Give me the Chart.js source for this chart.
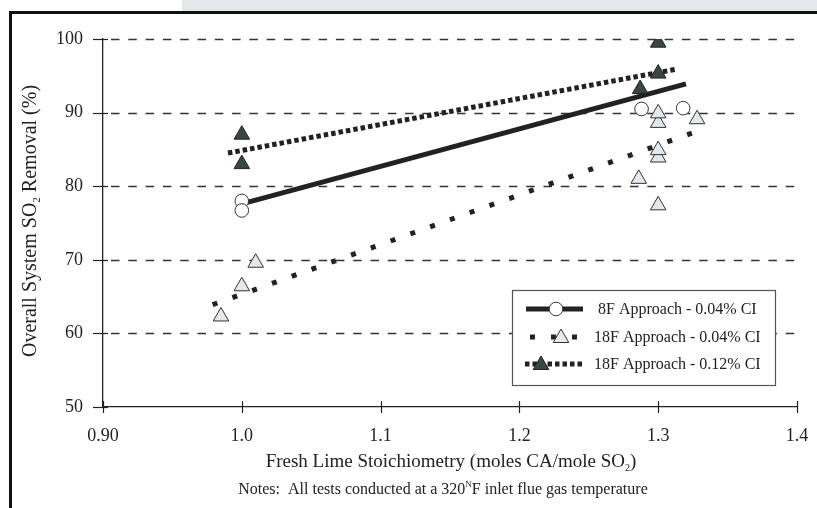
<!DOCTYPE html>
<html>
<head>
<meta charset="utf-8">
<title>SO2 Removal vs Fresh Lime Stoichiometry</title>
<script src="https://cdn.jsdelivr.net/npm/chart.js@4.4.1/dist/chart.umd.min.js"></script>
<style>
    html, body { margin: 0; padding: 0; background: #fff; }
    #wrap { position: relative; width: 817px; height: 508px; overflow: hidden; }
    #band { position: absolute; left: 182px; top: 0; width: 640px; height: 11px; background: #e2e7e9; }
    #frame { position: absolute; left: 9px; top: 11px; width: 820px; height: 520px;
             border-left: 3px solid #111; border-top: 3px solid #111; }
    #chartBox { position: absolute; left: 0; top: 0; width: 817px; height: 508px; }
</style>
</head>
<body>
<div id="wrap">
    <div id="band"></div>
    <div id="frame"></div>
    <div id="chartBox"><canvas id="mainChart"></canvas></div>
</div>
<script>
/* ===== ข้อมูล (อ่านค่าจากภาพ) ===== */
const xTicks = [0.9, 1.0, 1.1, 1.2, 1.3, 1.4];
const yTicks = [50, 60, 70, 80, 90, 100];
const gridValues = [60, 70, 80, 90, 100];

// 8F Approach - 0.04% CI (วงกลม)
const circleX = [1.0, 1.0, 1.288, 1.318];
const circleY = [78.0, 76.7, 90.5, 90.6];

// 18F Approach - 0.04% CI (สามเหลี่ยมสีอ่อน)
const lightX = [0.985, 1.0, 1.01, 1.286, 1.3, 1.3, 1.3, 1.3, 1.3, 1.328];
const lightY = [62.3, 66.4, 69.6, 81.0, 77.4, 83.9, 84.9, 88.6, 89.9, 89.1];

// 18F Approach - 0.12% CI (สามเหลี่ยมสีเข้ม)
const darkX = [1.0, 1.0, 1.287, 1.3, 1.3];
const darkY = [87.0, 83.0, 93.2, 95.3, 99.5];

// เส้นแนวโน้ม
const fit8FX = [1.0, 1.32];
const fit8FY = [77.6, 93.9];
const fit04X = [0.979, 1.333];
const fit04Y = [63.9, 87.8];
const fit12X = [0.99, 1.313];
const fit12Y = [84.5, 95.9];

const legendLabels = ['8F Approach - 0.04% CI', '18F Approach - 0.04% CI', '18F Approach - 0.12% CI'];

const SERIF = "'Liberation Serif', 'Times New Roman', serif";
const INK = '#222';

function toPoints(xs, ys) {
    return xs.map((x, i) => ({ x: x, y: ys[i] }));
}

/* ===== วาดสามเหลี่ยม (ใช้ในคำอธิบาย) ===== */
function drawTriangle(ctx, x, y, r, fill, stroke) {
    ctx.beginPath();
    for (let k = 0; k < 3; k++) {
        const a = k * 2 * Math.PI / 3;
        const px = x + Math.sin(a) * r;
        const py = y - Math.cos(a) * r;
        if (k === 0) ctx.moveTo(px, py); else ctx.lineTo(px, py);
    }
    ctx.closePath();
    ctx.fillStyle = fill;
    ctx.fill();
    ctx.lineWidth = 1;
    ctx.strokeStyle = stroke;
    ctx.stroke();
}

/* ===== ข้อความที่มีตัวห้อย / ตัวยก ===== */
function drawRichText(ctx, parts, cx, cy, size) {
    // parts: [{t, mode}] mode = 'n' | 'sub' | 'sup'
    const fontOf = (m) => (m === 'n' ? size : Math.round(size * 0.55)) + 'px ' + SERIF;
    let total = 0;
    parts.forEach(p => { ctx.font = fontOf(p.mode); total += ctx.measureText(p.t).width; });
    let x = cx - total / 2;
    ctx.textAlign = 'left';
    ctx.textBaseline = 'alphabetic';
    parts.forEach(p => {
        ctx.font = fontOf(p.mode);
        let dy = 0;
        if (p.mode === 'sub') dy = size * 0.2;
        if (p.mode === 'sup') dy = -size * 0.42;
        ctx.fillText(p.t, x, cy + dy);
        x += ctx.measureText(p.t).width;
    });
}

/* ===== Plugin: เส้นกริดประ, ขีด tick, ชื่อแกน, คำอธิบาย ===== */
const decorPlugin = {
    id: 'decor',
    beforeDatasetsDraw(chart) {
        const { ctx, chartArea, scales } = chart;
        ctx.save();
        ctx.strokeStyle = '#333';
        ctx.lineWidth = 1.5;
        ctx.setLineDash([8.5, 8.8]);
        ctx.lineDashOffset = -6;
        gridValues.forEach(v => {
            const y = Math.round(scales.y.getPixelForValue(v)) + 0.5;
            ctx.beginPath();
            ctx.moveTo(chartArea.left + 2, y);
            ctx.lineTo(chartArea.right, y);
            ctx.stroke();
        });
        ctx.restore();
    },
    afterDraw(chart) {
        const { ctx, chartArea, scales } = chart;
        ctx.save();

        // ขีด tick ที่ตัดผ่านแกน
        ctx.strokeStyle = INK;
        ctx.lineWidth = 1.2;
        const yAxisX = chartArea.left;
        yTicks.forEach(v => {
            const y = Math.round(scales.y.getPixelForValue(v)) + 0.5;
            ctx.beginPath();
            ctx.moveTo(yAxisX - 10, y);
            ctx.lineTo(yAxisX + 5, y);
            ctx.stroke();
        });
        const xAxisY = chartArea.bottom;
        xTicks.forEach(v => {
            const x = Math.round(scales.x.getPixelForValue(v)) + 0.5;
            ctx.beginPath();
            ctx.moveTo(x, xAxisY - 6);
            ctx.lineTo(x, xAxisY + 6);
            ctx.stroke();
        });

        // ชื่อแกน
        ctx.fillStyle = INK;
        drawRichText(ctx, [
            { t: 'Fresh Lime Stoichiometry (moles CA/mole SO', mode: 'n' },
            { t: '2', mode: 'sub' },
            { t: ')', mode: 'n' }
        ], 451, 467, 19);

        drawRichText(ctx, [
            { t: 'Notes:  All tests conducted at a 320', mode: 'n' },
            { t: 'N', mode: 'sup' },
            { t: 'F inlet flue gas temperature', mode: 'n' }
        ], 443, 494, 16);

        ctx.save();
        ctx.translate(36, 221);
        ctx.rotate(-Math.PI / 2);
        drawRichText(ctx, [
            { t: 'Overall System SO', mode: 'n' },
            { t: '2', mode: 'sub' },
            { t: ' Removal (%)', mode: 'n' }
        ], 0, 0, 20);
        ctx.restore();

        // คำอธิบายสัญลักษณ์
        drawLegend(ctx);
        ctx.restore();
    }
};

function drawLegend(ctx) {
    const bx = 512, by = 290, bw = 263, bh = 95;
    ctx.fillStyle = '#fff';
    ctx.fillRect(bx, by, bw, bh);
    ctx.strokeStyle = '#555';
    ctx.lineWidth = 1.2;
    ctx.setLineDash([]);
    ctx.strokeRect(bx + 0.5, by + 0.5, bw, bh);

    const rows = [309, 337, 364];
    const textX = [598, 594, 594];

    // แถว 1: เส้นทึบ + วงกลม
    ctx.strokeStyle = INK;
    ctx.lineWidth = 5;
    ctx.beginPath();
    ctx.moveTo(526, rows[0]);
    ctx.lineTo(583, rows[0]);
    ctx.stroke();
    ctx.beginPath();
    ctx.arc(556, rows[0], 6.8, 0, Math.PI * 2);
    ctx.fillStyle = '#fff';
    ctx.fill();
    ctx.lineWidth = 1;
    ctx.strokeStyle = '#333';
    ctx.stroke();

    // แถว 2: จุดห่าง + สามเหลี่ยมอ่อน
    ctx.lineWidth = 5;
    ctx.strokeStyle = INK;
    ctx.setLineDash([5, 16]);
    ctx.beginPath();
    ctx.moveTo(530, rows[1]);
    ctx.lineTo(582, rows[1]);
    ctx.stroke();
    ctx.setLineDash([]);
    drawTriangle(ctx, 561, rows[1] + 1, 9, '#e3e8ea', '#333');

    // แถว 3: จุดถี่ + สามเหลี่ยมเข้ม
    ctx.lineWidth = 5;
    ctx.strokeStyle = INK;
    ctx.setLineDash([4.5, 3]);
    ctx.beginPath();
    ctx.moveTo(525, rows[2]);
    ctx.lineTo(583, rows[2]);
    ctx.stroke();
    ctx.setLineDash([]);
    drawTriangle(ctx, 541, rows[2] + 1, 9, '#3b4548', '#222');

    ctx.fillStyle = INK;
    ctx.font = '16px ' + SERIF;
    ctx.textAlign = 'left';
    ctx.textBaseline = 'middle';
    legendLabels.forEach((t, i) => ctx.fillText(t, textX[i], rows[i] + 1));
}

/* ===== สร้างกราฟ ===== */
function initMainChart() {
    const ctxMain = document.getElementById('mainChart').getContext('2d');

    new Chart(ctxMain, {
        type: 'scatter',
        data: {
            datasets: [
                {
                    label: legendLabels[0] + ' fit',
                    data: toPoints(fit8FX, fit8FY),
                    showLine: true, pointRadius: 0,
                    borderColor: INK, borderWidth: 5,
                    borderCapStyle: 'butt', order: 6
                },
                {
                    label: legendLabels[1] + ' fit',
                    data: toPoints(fit04X, fit04Y),
                    showLine: true, pointRadius: 0,
                    borderColor: INK, borderWidth: 5,
                    borderDash: [5, 16], borderCapStyle: 'butt', order: 5
                },
                {
                    label: legendLabels[2] + ' fit',
                    data: toPoints(fit12X, fit12Y),
                    showLine: true, pointRadius: 0,
                    borderColor: INK, borderWidth: 5,
                    borderDash: [4.5, 3], borderCapStyle: 'butt', order: 4
                },
                {
                    label: legendLabels[0],
                    data: toPoints(circleX, circleY),
                    pointStyle: 'circle', pointRadius: 6.8,
                    backgroundColor: '#fff', borderColor: '#333', borderWidth: 1, order: 3
                },
                {
                    label: legendLabels[1],
                    data: toPoints(lightX, lightY),
                    pointStyle: 'triangle', pointRadius: 9,
                    backgroundColor: '#e3e8ea', borderColor: '#333', borderWidth: 1, order: 2
                },
                {
                    label: legendLabels[2],
                    data: toPoints(darkX, darkY),
                    pointStyle: 'triangle', pointRadius: 9,
                    backgroundColor: '#3b4548', borderColor: '#222', borderWidth: 1, order: 1
                }
            ]
        },
        options: {
            responsive: true,
            maintainAspectRatio: false,
            animation: false,
            layout: { padding: { top: 39, right: 20, left: 0, bottom: 0 } },
            plugins: {
                legend: { display: false },
                tooltip: { enabled: false }
            },
            scales: {
                x: {
                    type: 'linear',
                    min: 0.9, max: 1.4,
                    afterFit: (scale) => {
                        scale.height = 101;
                        scale.paddingLeft = 0;
                        scale.paddingRight = 0;
                    },
                    afterBuildTicks: (scale) => { scale.ticks = xTicks.map(v => ({ value: v })); },
                    grid: { display: false, drawTicks: false, tickLength: 0 },
                    border: { display: true, color: INK, width: 1.3 },
                    ticks: {
                        padding: 18,
                        color: INK,
                        font: { family: SERIF, size: 18 },
                        callback: (v) => Math.abs(v - 0.9) < 1e-6 ? '0.90' : v.toFixed(1)
                    }
                },
                y: {
                    min: 50, max: 100,
                    afterFit: (scale) => { scale.width = 103; },
                    afterBuildTicks: (scale) => { scale.ticks = yTicks.map(v => ({ value: v })); },
                    grid: { display: false, drawTicks: false, tickLength: 0 },
                    border: { display: true, color: INK, width: 1.3 },
                    ticks: {
                        padding: 20,
                        color: INK,
                        font: { family: SERIF, size: 18 }
                    }
                }
            }
        },
        plugins: [decorPlugin]
    });
}

document.addEventListener('DOMContentLoaded', function() {
    initMainChart();
});
</script>
</body>
</html>
